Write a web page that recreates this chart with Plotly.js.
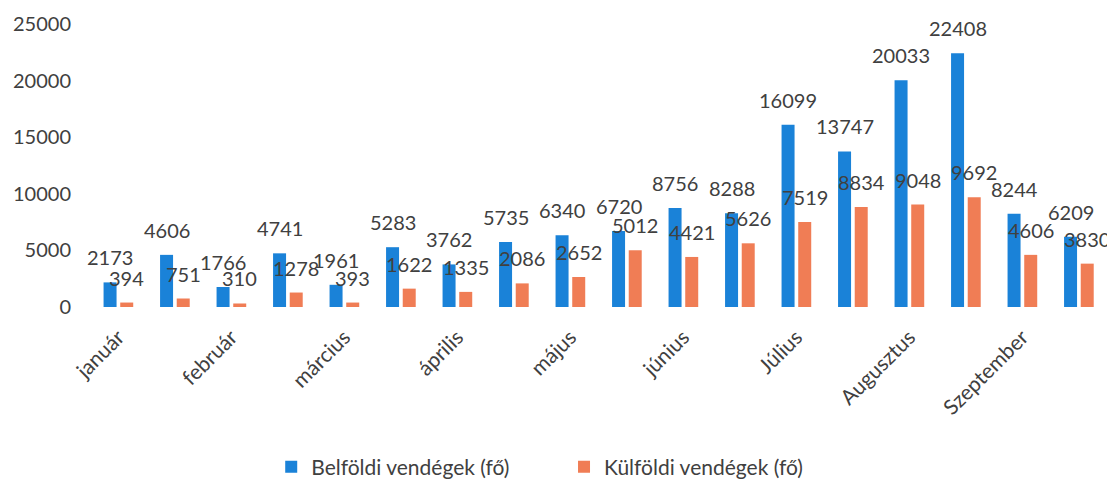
<!DOCTYPE html>
<html><head><meta charset="utf-8">
<script src="https://cdn.plot.ly/plotly-3.0.1.min.js"></script>
<style>html,body{margin:0;padding:0;background:#fff}#chart{width:1107px;height:479px}</style>
</head><body><div id="chart"></div>
<script>
const categories = ["január","","február","","március","","április","","május","","június","","Július","","Augusztus","","Szeptember",""];
const belfoldi = [2173,4606,1766,4741,1961,5283,3762,5735,6340,6720,8756,8288,16099,13747,20033,22408,8244,6209];
const kulfoldi = [394,751,310,1278,393,1622,1335,2086,2652,5012,4421,5626,7519,8834,9048,9692,4606,3830];
const seriesNames = ["Belföldi vendégek (fő)","Külföldi vendégek (fő)"];
const yTicks = [0,5000,10000,15000,20000,25000];

const xs = categories.map((c,i)=>i);
const tickvals = xs.filter(i=>categories[i] !== "");
const ticktext = tickvals.map(i=>categories[i]);

const W = 0.23, offB = -0.26, offK = 0.035;
const font = "Lato, 'Open Sans', sans-serif";
const txtColor = "#404040";

const traces = [
  {type:'bar', name:seriesNames[0], x:xs, y:belfoldi, width:W, offset:offB, marker:{color:'#1a82d8'}, legend:'legend'},
  {type:'bar', name:seriesNames[1], x:xs, y:kulfoldi, width:W, offset:offK, marker:{color:'#f07d55'}, legend:'legend2'}
];

const annotations = [];
xs.forEach(i=>{
  annotations.push({x:i+offB+W/2, y:belfoldi[i], xref:'x', yref:'y', text:String(belfoldi[i]), showarrow:false, yanchor:'middle', yshift:25, font:{family:font,size:20,color:txtColor}});
  annotations.push({x:i+offK+W/2, y:kulfoldi[i], xref:'x', yref:'y', text:String(kulfoldi[i]), showarrow:false, yanchor:'middle', yshift:25, font:{family:font,size:20,color:txtColor}});
});

const legFont = {family:font, size:21, color:txtColor};
const layout = {
  width:1107, height:479,
  margin:{l:90, r:0, t:24, b:172, autoexpand:false},
  paper_bgcolor:'#fff', plot_bgcolor:'#fff',
  barmode:'group',
  font:{family:font, size:19, color:txtColor},
  xaxis:{range:[-0.5,17.5], tickvals:tickvals, ticktext:ticktext, tickangle:-45, showgrid:false, zeroline:false, showline:false, ticks:'', tickfont:{size:21,color:txtColor}, ticklabelstandoff:13},
  yaxis:{range:[0,25000], tickvals:yTicks, ticktext:yTicks.map(String), showgrid:false, zeroline:false, showline:false, ticks:'', tickfont:{size:20,color:txtColor}, ticklabelstandoff:18},
  showlegend:true,
  legend:{xref:'container', yref:'container', x:0.245, xanchor:'left', y:0.025, yanchor:'middle', font:legFont, itemwidth:30, bgcolor:'rgba(0,0,0,0)'},
  legend2:{xref:'container', yref:'container', x:0.5095, xanchor:'left', y:0.025, yanchor:'middle', font:legFont, itemwidth:30, bgcolor:'rgba(0,0,0,0)'},
  annotations:annotations
};
Plotly.newPlot('chart', traces, layout, {displayModeBar:false, staticPlot:true});
</script></body></html>
